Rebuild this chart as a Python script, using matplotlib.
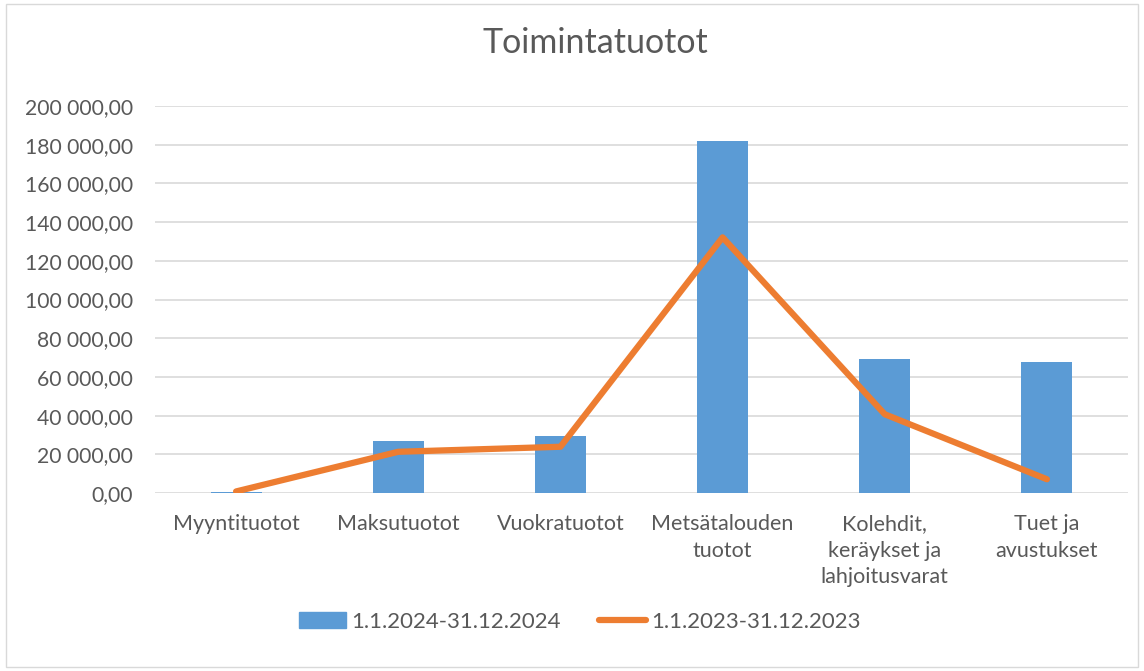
import matplotlib
matplotlib.use("Agg")
import matplotlib.pyplot as plt
from matplotlib.patches import Rectangle
from matplotlib.lines import Line2D

categories = ["Myyntituotot", "Maksutuotot", "Vuokratuotot",
              "Metsätalouden\ntuotot", "Kolehdit,\nkeräykset ja\nlahjoitusvarat",
              "Tuet ja\navustukset"]
series_2024 = [700, 27000, 29500, 181900, 69300, 67600]
series_2023 = [800, 21300, 23900, 132100, 40700, 7100]
yticks = [0, 20000, 40000, 60000, 80000, 100000, 120000, 140000, 160000, 180000, 200000]
ytick_labels = ["0,00", "20 000,00", "40 000,00", "60 000,00", "80 000,00", "100 000,00",
                "120 000,00", "140 000,00", "160 000,00", "180 000,00", "200 000,00"]
label_2024 = "1.1.2024-31.12.2024"
label_2023 = "1.1.2023-31.12.2023"
title = "Toimintatuotot"

plt.rcParams['font.family'] = ['Lato', 'DejaVu Sans']

text_color = "#595959"
blue = "#5B9BD5"
orange = "#ED7D31"

fig = plt.figure(figsize=(11.44, 6.71), dpi=100)
ax = fig.add_axes([155/1144, 1-493/671, (1128-155)/1144, (493-106)/671])

x = list(range(len(categories)))
ax.bar(x, series_2024, width=0.315, color=blue, zorder=2)
ax.plot(x, series_2023, color=orange, linewidth=4.5, solid_capstyle='round',
        solid_joinstyle='round', zorder=3)

ax.set_xlim(-0.5, len(categories) - 0.5)
ax.set_ylim(0, 200000)
ax.set_yticks(yticks)
ax.set_yticklabels(ytick_labels, fontsize=15.2, color=text_color)
ax.set_xticks(x)
ax.set_xticklabels(categories, fontsize=15.5, color=text_color, linespacing=1.42, va='top')
ax.tick_params(axis='both', length=0)
ax.tick_params(axis='y', pad=16)
ax.tick_params(axis='x', pad=15)
ax.grid(axis='y', color="#d9d9d9", linewidth=1.2, zorder=0)
ax.set_axisbelow(True)
for s in ax.spines.values():
    s.set_visible(False)

fig.text(595/1144, 1-43/671, title, ha='center', va='center', fontsize=24.5, color=text_color)

handles = [Rectangle((0, 0), 1, 1, color=blue),
           Line2D([0], [0], color=orange, linewidth=4.5, solid_capstyle='round')]
fig.legend(handles, [label_2024, label_2023], loc='center', bbox_to_anchor=(580/1144, 1-622/671),
           ncol=2, frameon=False, fontsize=16, labelcolor=text_color,
           handlelength=2.1, handletextpad=0.25, columnspacing=1.7)

fig.patches.append(Rectangle((6/1144, 4/671), 1-12/1144, 1-8/671, transform=fig.transFigure,
                             fill=False, edgecolor="#d9d9d9", linewidth=1))

fig.savefig("out.png", dpi=100)
